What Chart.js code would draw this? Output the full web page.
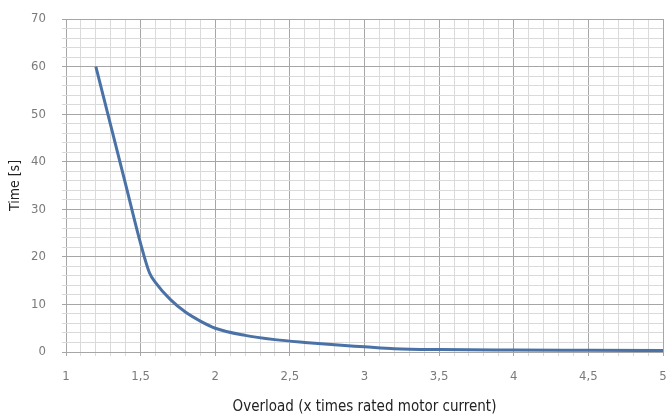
<!DOCTYPE html>
<html>
<head>
<meta charset="utf-8">
<script src="https://cdn.jsdelivr.net/npm/chart.js@4/dist/chart.umd.min.js"></script>
<style>
html,body{margin:0;padding:0;background:#fff;}
#wrap{width:668px;height:416px;position:relative;}
</style>
</head>
<body>
<div id="wrap"><canvas id="c" width="668" height="416"></canvas></div>
<script>
const overload = [1.2, 1.3, 1.4, 1.5, 1.56, 1.6, 1.7, 1.8, 1.9, 2.0, 2.2, 2.4, 2.6, 2.8, 3.0, 3.2, 3.5, 4.0, 4.5, 5.0];
const timeSec  = [60, 47.6, 35.2, 22.8, 16.6, 14.6, 11.0, 8.4, 6.5, 5, 3.5, 2.6, 2.0, 1.5, 1.1, 0.7, 0.5, 0.4, 0.35, 0.3];
const xTitle = 'Overload (x times rated motor current)';
const yTitle = 'Time [s]';

const pts = overload.map((x, i) => ({x: x, y: timeSec[i]}));
const FONT = "'Liberation Sans Narrow','DejaVu Sans Condensed','Roboto Condensed',sans-serif";

new Chart(document.getElementById('c'), {
  type: 'line',
  data: {
    datasets: [{
      data: pts,
      borderColor: '#4a72a6',
      borderWidth: 3,
      pointRadius: 0,
      fill: false,
      cubicInterpolationMode: 'monotone'
    }]
  },
  options: {
    responsive: false,
    animation: false,
    layout: {padding: {top: 19, right: 5, left: 0, bottom: 0}},
    plugins: {legend: {display: false}, tooltip: {enabled: false}},
    scales: {
      x: {
        type: 'linear',
        min: 1, max: 5,
        afterBuildTicks: (s) => {
          const t = [];
          for (let i = 10; i <= 50; i++) t.push({value: i / 10});
          s.ticks = t;
        },
        afterFit: (s) => { s.height = 64; s.paddingLeft = 0; s.paddingRight = 0; },
        ticks: {
          autoSkip: false, maxRotation: 0, padding: 13,
          color: '#7a7a7a',
          font: {family: FONT, size: 13},
          callback: (v) => {
            const r = Math.round(v * 10);
            return r % 5 === 0 ? String(r / 10).replace('.', ',') : '';
          }
        },
        grid: {
          tickLength: 4,
          color: (ctx) => {
            const r = Math.round(ctx.tick.value * 10);
            return r % 5 === 0 ? '#a6a6a6' : '#dadada';
          },
          lineWidth: 1
        },
        border: {display: false},
        title: {
          display: true, text: xTitle, color: '#222',
          font: {family: FONT, size: 15}, padding: {top: 14, bottom: 0}
        }
      },
      y: {
        type: 'linear',
        min: 0, max: 70,
        afterBuildTicks: (s) => {
          const t = [];
          for (let v = 0; v <= 70; v += 2) t.push({value: v});
          s.ticks = t;
        },
        afterFit: (s) => { s.width = 66; s.paddingTop = 0; s.paddingBottom = 0; },
        ticks: {
          autoSkip: false, padding: 16,
          color: '#7a7a7a',
          font: {family: FONT, size: 13},
          callback: (v) => (Math.round(v) % 10 === 0 ? String(Math.round(v)) : '')
        },
        grid: {
          tickLength: 4,
          color: (ctx) => (Math.round(ctx.tick.value) % 10 === 0 ? '#a6a6a6' : '#dadada'),
          lineWidth: 1
        },
        border: {display: false},
        title: {
          display: true, text: yTitle, color: '#222',
          font: {family: FONT, size: 14}, padding: {top: 7, bottom: 0}
        }
      }
    }
  }
});
</script>
</body>
</html>
